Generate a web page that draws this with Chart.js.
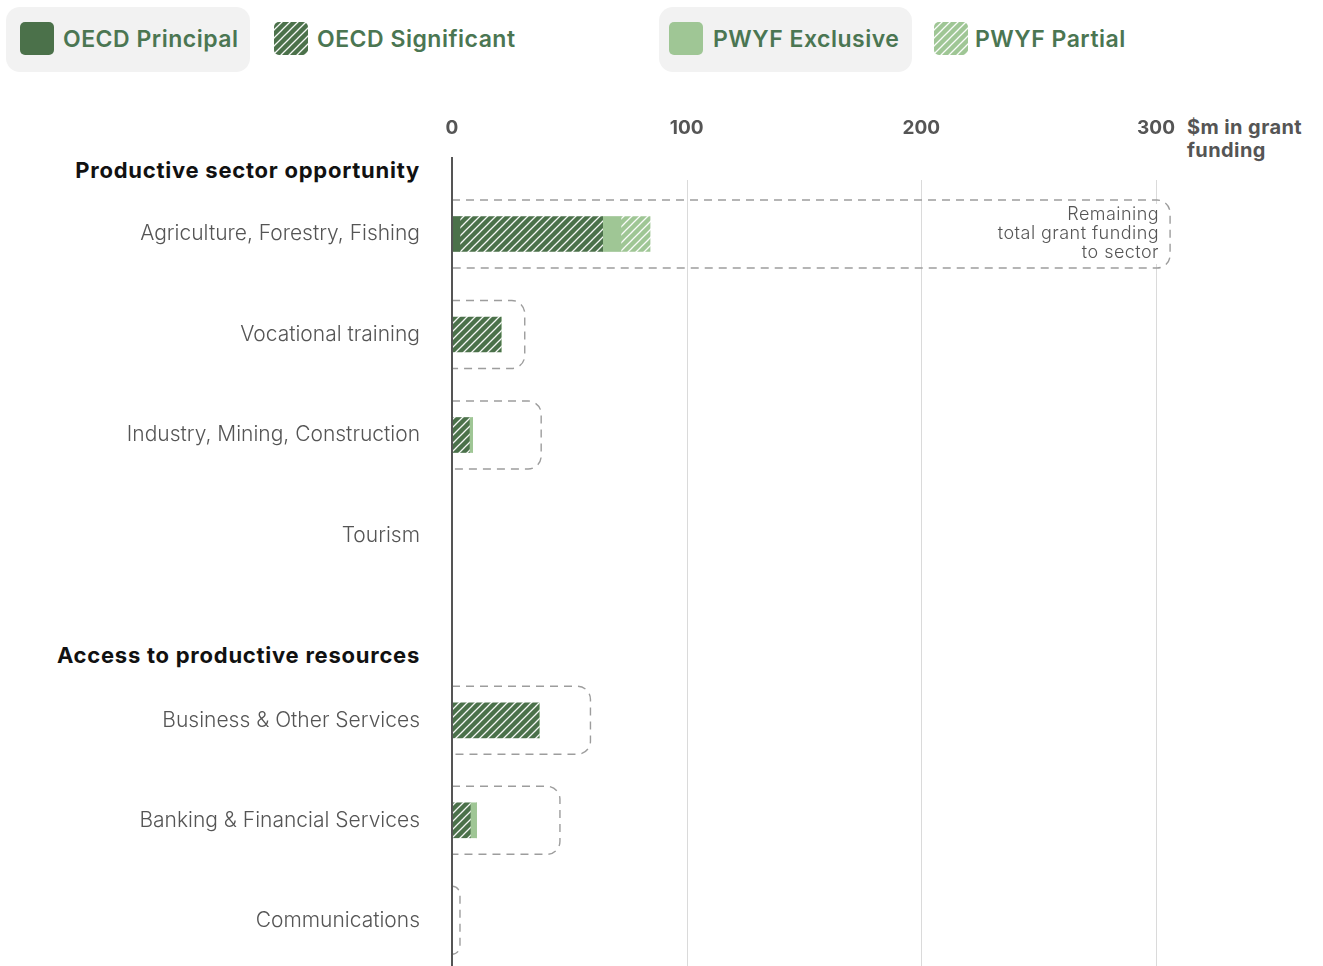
<!DOCTYPE html>
<html>
<head>
<meta charset="utf-8">
<script src="https://cdn.jsdelivr.net/npm/chart.js@4.4.1/dist/chart.umd.min.js"></script>
<style>
  html, body { margin: 0; padding: 0; background: #fff; overflow: hidden; }
  #wrap { position: relative; width: 1323px; height: 966px; overflow: hidden; font-family: Inter, "Noto Sans", sans-serif; }
  .abs { position: absolute; white-space: nowrap; }
  .lgbox { position: absolute; background: #f2f2f2; border-radius: 14px; }
  .sw { position: absolute; width: 34px; height: 33px; border-radius: 5px; }
  .lgtext { position: absolute; font-size: 23px; font-weight: 600; color: #4b7652; line-height: 30px; top: 24px; letter-spacing: 0.5px; white-space: nowrap; }
  .heading { position: absolute; right: 903px; font-size: 22px; font-weight: 700; color: #111; line-height: 24px; text-align: right; letter-spacing: 0.75px; white-space: nowrap; }
  canvas { position: absolute; left: 0; }
</style>
</head>
<body>
<div id="wrap">
  <div class="lgbox" style="left:6px;top:7px;width:244px;height:65px;"></div>
  <div class="lgbox" style="left:659px;top:7px;width:253px;height:65px;"></div>
  <div class="sw" id="sw0" style="left:20px;top:22px;"></div>
  <div class="lgtext" id="lg0" style="left:63px;"></div>
  <div class="sw" id="sw1" style="left:274px;top:22px;"></div>
  <div class="lgtext" id="lg1" style="left:317px;"></div>
  <div class="sw" id="sw2" style="left:669px;top:22px;"></div>
  <div class="lgtext" id="lg2" style="left:713px;"></div>
  <div class="sw" id="sw3" style="left:934px;top:22px;"></div>
  <div class="lgtext" id="lg3" style="left:975px;"></div>

  <div class="heading" id="h0" style="top:158px;"></div>
  <div class="heading" id="h1" style="top:643px;"></div>

  <div class="abs" id="axisTitle" style="left:1187px;top:116px;font-size:20px;font-weight:700;color:#555;line-height:23px;letter-spacing:0.4px;"></div>

  <canvas id="c1" width="1323" height="671" style="top:0px;"></canvas>
  <canvas id="c2" width="1323" height="420" style="top:610px;"></canvas>

  <div class="abs" id="note" style="right:161px;top:204px;padding:0 3px 3px 0;background:#fff;z-index:5;font-size:18px;font-weight:300;color:#555;line-height:19px;text-align:right;letter-spacing:0.45px;"></div>
</div>
<script>
// ---------- data ----------
const seriesNames = ['OECD Principal', 'OECD Significant', 'PWYF Exclusive', 'PWYF Partial'];
const sectionTitles = ['Productive sector opportunity', 'Access to productive resources'];
const axisTitleLines = ['$m in grant', 'funding'];
const noteLines = ['Remaining', 'total grant funding', 'to sector'];
const xTicks = [0, 100, 200, 300];

const section1Labels = ['Agriculture, Forestry, Fishing', 'Vocational training', 'Industry, Mining, Construction', 'Tourism'];
const section1Principal   = [3.4, 0, 0, 0];
const section1Significant = [60.8, 20.9, 7.4, 0];
const section1Exclusive   = [7.8, 0, 1.4, 0];
const section1Partial     = [12.4, 0, 0, 0];
const section1Total       = [306, 31, 38, 0];

const section2Labels = ['Business & Other Services', 'Banking & Financial Services', 'Communications'];
const section2Principal   = [0, 0, 0];
const section2Significant = [37.1, 7.8, 0];
const section2Exclusive   = [0, 2.7, 0];
const section2Partial     = [0, 0, 0];
const section2Total       = [59, 46, 3.4];

// ---------- styles ----------
const DARK = '#4b714a';
const LIGHT = '#9fc695';
const FONT = 'Inter, "Noto Sans", sans-serif';

function hatch(bg) {
  const c = document.createElement('canvas');
  c.width = 8; c.height = 8;
  const g = c.getContext('2d');
  g.fillStyle = bg; g.fillRect(0, 0, 8, 8);
  g.strokeStyle = 'rgba(255,255,255,0.95)';
  g.lineWidth = 1.3;
  g.beginPath();
  g.moveTo(-2, 10); g.lineTo(10, -2);
  g.moveTo(-2, 2); g.lineTo(2, -2);
  g.moveTo(6, 10); g.lineTo(10, 6);
  g.stroke();
  return c;
}
const darkTile = hatch(DARK), lightTile = hatch(LIGHT);
const ctxTmp = document.createElement('canvas').getContext('2d');
const darkPattern = ctxTmp.createPattern(darkTile, 'repeat');
const lightPattern = ctxTmp.createPattern(lightTile, 'repeat');

// legend
const swatchBg = [DARK, 'url(' + darkTile.toDataURL() + ')', LIGHT, 'url(' + lightTile.toDataURL() + ')'];
seriesNames.forEach((n, i) => {
  document.getElementById('lg' + i).textContent = n;
  document.getElementById('sw' + i).style.background = swatchBg[i];
});
document.getElementById('h0').textContent = sectionTitles[0];
document.getElementById('h1').textContent = sectionTitles[1];
document.getElementById('axisTitle').innerHTML = axisTitleLines.join('<br>');
document.getElementById('note').innerHTML = noteLines.join('<br>');

// ---------- plugins ----------
const framePlugin = {
  id: 'frame',
  beforeDatasetsDraw(chart, args, opts) {
    const ctx = chart.ctx, xs = chart.scales.x, ys = chart.scales.y;
    ctx.save();
    ctx.strokeStyle = '#dadada';
    ctx.lineWidth = 1;
    xTicks.forEach(v => {
      if (v === 0) return;
      const px = Math.round(xs.getPixelForValue(v)) + 0.5;
      ctx.beginPath(); ctx.moveTo(px, opts.gridTop); ctx.lineTo(px, chart.height); ctx.stroke();
    });
    ctx.strokeStyle = '#9d9d9d';
    ctx.lineWidth = 1.4;
    ctx.setLineDash([8, 6]);
    const x0 = xs.getPixelForValue(0);
    opts.totals.forEach((t, i) => {
      if (!(t > 0)) return;
      const x1 = xs.getPixelForValue(t);
      const yc = ys.getPixelForValue(i);
      const top = yc - 34, bot = yc + 34;
      const r = Math.min(13, x1 - x0);
      ctx.beginPath();
      ctx.moveTo(x0, top);
      ctx.lineTo(x1 - r, top);
      ctx.arcTo(x1, top, x1, top + r, r);
      ctx.lineTo(x1, bot - r);
      ctx.arcTo(x1, bot, x1 - r, bot, r);
      ctx.lineTo(x0, bot);
      ctx.stroke();
    });
    ctx.restore();
  },
  afterDatasetsDraw(chart, args, opts) {
    const ctx = chart.ctx, xs = chart.scales.x;
    const px = xs.getPixelForValue(0);
    ctx.save();
    ctx.strokeStyle = '#555';
    ctx.lineWidth = 2;
    ctx.beginPath(); ctx.moveTo(px, opts.axisTop); ctx.lineTo(px, chart.height); ctx.stroke();
    ctx.restore();
  }
};

function makeChart(id, labels, p, s, e, w, totals, showTicks, padTop, padBottom, gridTop, axisTop) {
  const ds = (label, data, bg) => ({ label, data, backgroundColor: bg, barThickness: 35, borderWidth: 0, clip: false });
  return new Chart(document.getElementById(id), {
    type: 'bar',
    data: {
      labels,
      datasets: [
        ds(seriesNames[0], p, DARK),
        ds(seriesNames[1], s, darkPattern),
        ds(seriesNames[2], e, LIGHT),
        ds(seriesNames[3], w, lightPattern)
      ]
    },
    options: {
      indexAxis: 'y',
      responsive: false,
      animation: false,
      devicePixelRatio: 1,
      layout: { padding: { top: padTop, bottom: padBottom, right: 167, left: 0 } },
      plugins: {
        legend: { display: false },
        tooltip: { enabled: false },
        frame: { totals, gridTop, axisTop }
      },
      scales: {
        x: {
          type: 'linear',
          position: 'top',
          stacked: true,
          min: 0, max: 300,
          display: showTicks,
          afterBuildTicks: (sc) => { sc.ticks = xTicks.map(v => ({ value: v })); },
          afterFit: (sc) => { if (showTicks) sc.height = 183.75; },
          grid: { display: false, drawTicks: false },
          border: { display: false },
          ticks: { color: '#555', font: { family: FONT, size: 19, weight: '700' }, padding: 44, maxRotation: 0 }
        },
        y: {
          type: 'category',
          stacked: true,
          afterFit: (sc) => { sc.width = 452; },
          grid: { display: false, drawTicks: false },
          border: { display: false },
          ticks: { color: '#555', font: { family: FONT, size: 21, weight: '300' }, padding: 32 }
        }
      }
    },
    plugins: [framePlugin]
  });
}

makeChart('c1', section1Labels, section1Principal, section1Significant, section1Exclusive, section1Partial,
          section1Total, true, 0, 671 - 585.75, 180, 157);
makeChart('c2', section2Labels, section2Principal, section2Significant, section2Exclusive, section2Partial,
          section2Total, false, 60.3, 59.7, 0, 0);
</script>
</body>
</html>
